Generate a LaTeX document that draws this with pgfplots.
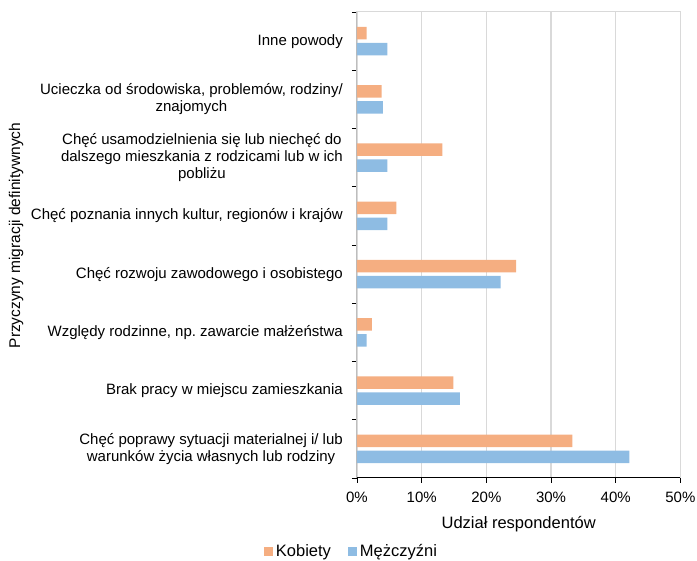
\documentclass[border=0pt]{standalone}
\usepackage{fontspec}
\setmainfont{Liberation Sans}
\usepackage{pgfplots}
\pgfplotsset{compat=1.18}

\definecolor{kob}{HTML}{F5AE81}
\definecolor{mez}{HTML}{8EBCE3}
\definecolor{gridgray}{HTML}{D9D9D9}

\begin{document}
\frenchspacing
\fontsize{15}{16.7}\selectfont
\begin{tikzpicture}
\begin{axis}[
    at={(357pt,83pt)}, anchor=south west,
    scale only axis,
    width=323.4pt, height=466pt,
    xbar, bar width=12.5pt,
    xmin=0, xmax=50,
    ymin=-0.5, ymax=7.5,
    xtick={0,10,...,50},
    xticklabels={0\%,10\%,20\%,30\%,40\%,50\%},
    xticklabel style={yshift=-4pt},
    ytick={0,...,7},
    yticklabels={
        {Chęć poprawy sytuacji materialnej i/ lub\\warunków życia własnych lub rodziny},
        {Brak pracy w miejscu zamieszkania},
        {Względy rodzinne, np. zawarcie małżeństwa},
        {Chęć rozwoju zawodowego i osobistego},
        {Chęć poznania innych kultur, regionów i krajów},
        {Chęć usamodzielnienia się lub niechęć do\\dalszego mieszkania z rodzicami lub w ich\\pobliżu},
        {Ucieczka od środowiska, problemów, rodziny/\\znajomych},
        {Inne powody}},
    yticklabel style={align=center, xshift=-4pt},
    minor ytick={-0.5,0.5,...,7.5},
    tick align=outside, tick pos=left,
    major tick length=5pt, minor tick length=5pt,
    major y tick style={draw=none},
    minor y tick style={black, line width=0.8pt},
    major x tick style={black, line width=0.8pt},
    xmajorgrids, grid style={gridgray, line width=1.3pt},
    axis line style={draw=gridgray, line width=1pt},
    xlabel={Udział respondentów},
    xlabel style={at={(axis description cs:0.5,-0.0987)}, anchor=center,
        font=\fontsize{16.5}{18}\selectfont},
    ylabel={Przyczyny migracji definitywnych},
    ylabel style={at={(axis description cs:-1.0544,0.5204)}, anchor=center,
        font=\fontsize{15.5}{17}\selectfont},
    /pgf/number format/assume math mode=true,
    legend style={at={(axis description cs:-0.0155,-0.1588)}, anchor=center,
        draw=none, legend columns=2, column sep=0pt,
        font=\fontsize{16.5}{18}\selectfont,
        nodes={inner xsep=3pt},
        /tikz/every even column/.append style={column sep=14pt}},
    legend image code/.code={\fill[#1] (0pt,-4.5pt) rectangle (9pt,4.5pt);},
]
\addplot[draw=none, fill=kob, bar shift=8pt] coordinates {
    (33.3,0) (14.9,1) (2.3,2) (24.6,3) (6.1,4) (13.2,5) (3.8,6) (1.5,7)};
\addplot[draw=none, fill=mez, bar shift=-8pt] coordinates {
    (42.1,0) (15.9,1) (1.5,2) (22.2,3) (4.7,4) (4.7,5) (4.0,6) (4.7,7)};
\legend{Kobiety, Mężczyźni}
\draw[black, line width=1pt] (rel axis cs:0,1) -- (rel axis cs:0,0) -- (rel axis cs:1,0);
\end{axis}
\pgfresetboundingbox
\path[use as bounding box] (0,0) rectangle (697pt,561pt);
\end{tikzpicture}
\end{document}
